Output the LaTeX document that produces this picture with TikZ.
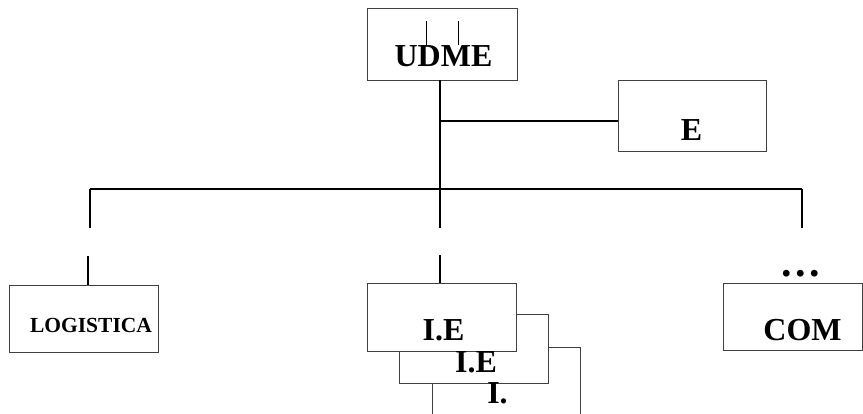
\documentclass[tikz,border=0pt]{standalone}
\usepackage{fontspec}
\setmainfont{Liberation Serif}
\begin{document}
\begin{tikzpicture}[x=1pt,y=-1pt,
  box/.style={draw=black!75, line width=0.9pt, fill=white, rectangle, inner sep=0pt, anchor=north west},
  conn/.style={draw=black, line width=1.6pt},
  big/.style={font=\fontsize{32}{32}\selectfont\bfseries, anchor=base, inner sep=0pt},
  small/.style={font=\fontsize{21.5}{21.5}\selectfont\bfseries, anchor=base, inner sep=0pt}]
\useasboundingbox (0,0) rectangle (863,413);
\clip (0,0) rectangle (863,413);
% boxes
\node[box, minimum width=150pt, minimum height=72pt] (udme) at (367,8) {};
\node[box, minimum width=148pt, minimum height=71pt] (ebox) at (618,80) {};
\node[box, minimum width=149pt, minimum height=67pt] (log) at (9,285) {};
\node[box, minimum width=148pt, minimum height=80pt] (ie3) at (432,347) {};
\node[box, minimum width=149pt, minimum height=69pt] (ie2) at (399,314) {};
\node[box, minimum width=149pt, minimum height=68pt] (ie1) at (367,283) {};
\node[box, minimum width=139pt, minimum height=67pt] (com) at (723,283) {};
% labels
\node[big] (tudme) at (443.5,66) {UDME};
\node[big] (te) at (691.5,140) {E};
\node[big] (tie1) at (443.5,340.7) {I.E};
\node[big] (tie2) at (476,372.7) {I.E};
\node[big] (tie3) at (497.5,403) {I.};
\node[big] (tcom) at (802.5,340) {COM};
\node[small] (tlog) at (91,332.7) {LOGISTICA};
\node[font=\fontsize{42}{42}\selectfont\bfseries, anchor=base, inner sep=0pt] (dots) at (801,276) {.\kern3.5pt.\kern3.5pt.};
% marks inside UDME
\draw[line width=1.2pt] ([xshift=-16pt]udme.north) ++(0,13) -- ++(0,24);
\draw[line width=1.2pt] ([xshift=16pt]udme.north) ++(0,13) -- ++(0,24);
% connectors
\coordinate (top) at (440,80);
\coordinate (jE) at (440,121);
\coordinate (jc) at (440,189);
\coordinate (bl) at (90,189);
\coordinate (br) at (802,189);
\coordinate (dl) at (90,228);
\coordinate (dc) at (440,228);
\coordinate (dr) at (802,228);
\coordinate (sl) at (88,256);
\coordinate (sc) at (440,255);
\draw[conn] (top) -- (dc);
\draw[conn] (jE) -- (ebox.west |- jE);
\draw[conn] (bl) -- (br);
\draw[conn] (bl) -- (dl);
\draw[conn] (br) -- (dr);
\draw[conn] (sl) -- (sl |- log.north);
\draw[conn] (sc) -- (sc |- ie1.north);
\end{tikzpicture}
\end{document}
